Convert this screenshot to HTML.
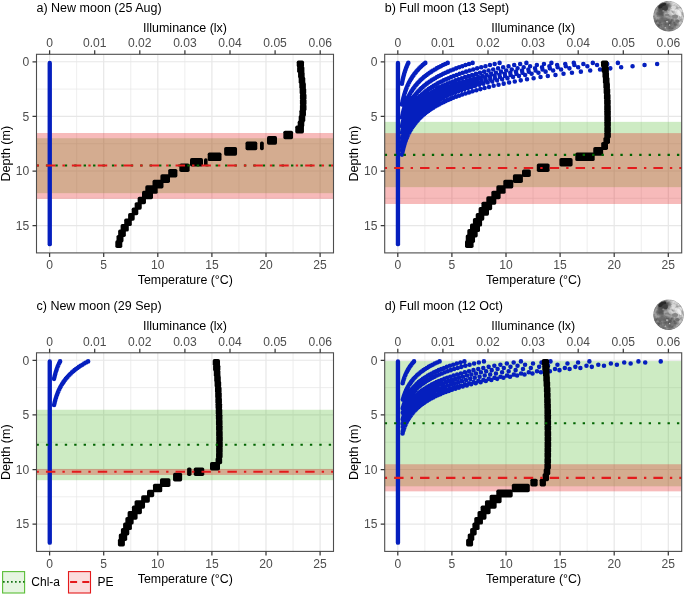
<!DOCTYPE html>
<html lang="en"><head><meta charset="utf-8"><title>Depth profiles</title>
<style>html,body{margin:0;padding:0;background:#fff}svg{display:block}</style></head><body>
<svg width="685" height="595" viewBox="0 0 685 595" font-family="'Liberation Sans', sans-serif">
<rect width="685" height="595" fill="#fff"/>
<defs><filter id="mb" x="-50%" y="-50%" width="200%" height="200%"><feGaussianBlur stdDeviation="1.1"/></filter><filter id="mb2" x="-50%" y="-50%" width="200%" height="200%"><feGaussianBlur stdDeviation=".6"/></filter><filter id="me" x="-20%" y="-20%" width="140%" height="140%"><feGaussianBlur stdDeviation=".4"/></filter><filter id="mt" x="0" y="0" width="100%" height="100%"><feTurbulence type="fractalNoise" baseFrequency=".28" numOctaves="2" seed="7" result="n"/><feColorMatrix in="n" type="matrix" values="0 0 0 0 0  0 0 0 0 0  0 0 0 0 0  1.6 0 0 0 -.55" result="a"/><feGaussianBlur in="a" stdDeviation=".35"/></filter><filter id="mt2" x="0" y="0" width="100%" height="100%"><feTurbulence type="fractalNoise" baseFrequency=".3" numOctaves="2" seed="23" result="n"/><feColorMatrix in="n" type="matrix" values="0 0 0 0 1  0 0 0 0 1  0 0 0 0 1  0 1.5 0 0 -.55" result="a"/><feGaussianBlur in="a" stdDeviation=".35"/></filter><clipPath id="mc"><circle cx="0" cy="0" r="15.3"/></clipPath><linearGradient id="mg" x1="0.9" y1="0.15" x2="0.15" y2="0.9"><stop offset="0" stop-color="#e4e4e4"/><stop offset=".45" stop-color="#bdbdbd"/><stop offset="1" stop-color="#868686"/></linearGradient><g id="moon"><g filter="url(#me)"><g clip-path="url(#mc)"><circle r="15.4" fill="url(#mg)"/><g filter="url(#mb)"><ellipse cx="-2" cy="8" rx="11" ry="6.5" fill="#727272"/><ellipse cx="8" cy="-6" rx="5.5" ry="6" fill="#e2e2e2"/><ellipse cx="-12.5" cy="3" rx="2" ry="4" fill="#9c9c9c"/></g><rect x="-16" y="-16" width="32" height="32" fill="#000" filter="url(#mt)" opacity=".5"/><rect x="-16" y="-16" width="32" height="32" fill="#fff" filter="url(#mt2)" opacity=".3"/><g filter="url(#mb)" opacity=".9"><ellipse cx="-5" cy="-9.2" rx="6.2" ry="3.9" fill="#3a3a3a" transform="rotate(-22 -5 -9.2)"/><ellipse cx="-8" cy="-3" rx="3.6" ry="3.4" fill="#505050"/><ellipse cx="-6.5" cy="3.5" rx="3.2" ry="2.6" fill="#6c6c6c"/></g><g filter="url(#mb2)"><ellipse cx="-6.4" cy="-10.6" rx="4.4" ry="2" fill="#2a2a2a" transform="rotate(-30 -6.4 -10.6)"/><ellipse cx="-3.6" cy="-8" rx="2.8" ry="2.6" fill="#404040"/><ellipse cx="-5.2" cy="-5.4" rx="1.1" ry=".9" fill="#8a8a8a"/><ellipse cx="6.4" cy="0.2" rx="3" ry="1.9" fill="#868686"/><ellipse cx="8.8" cy="4.9" rx="2.2" ry="1.7" fill="#707070"/><ellipse cx="-1.5" cy="-1.2" rx="2.4" ry="1.3" fill="#848484"/><ellipse cx="-1.6" cy="5.4" rx=".9" ry=".9" fill="#c8c8c8"/><ellipse cx="1" cy="8.8" rx=".8" ry=".8" fill="#c2c2c2"/><ellipse cx="-3.2" cy="11.6" rx="1" ry=".7" fill="#b4b4b4"/><ellipse cx="10.8" cy="-3" rx="1.5" ry="3.8" fill="#eee" transform="rotate(-25 10.8 -3)"/><ellipse cx="5" cy="-9" rx="2.4" ry="1.8" fill="#d8d8d8"/></g><circle r="15.1" fill="none" stroke="#555" stroke-width=".8" opacity=".35"/></g></g></g></defs>
<g transform="translate(0,0)"><text x="36.5" y="11.5" font-size="12.5" fill="#000">a) New moon (25 Aug)</text><text x="185" y="31.9" font-size="12.5" fill="#000" text-anchor="middle">Illuminance (lx)</text><text x="185.3" y="284.2" font-size="12.4" fill="#000" text-anchor="middle">Temperature (°C)</text><text transform="translate(9.8,153.7) rotate(-90)" font-size="12.5" fill="#000" text-anchor="middle">Depth (m)</text><rect x="36.5" y="54.3" width="297" height="198.6" fill="#fff"/><g stroke="#e7e7e7" fill="none"><path d="M76.65 54.3V252.9" stroke-width=".7"/><path d="M130.75 54.3V252.9" stroke-width=".7"/><path d="M184.85 54.3V252.9" stroke-width=".7"/><path d="M238.95 54.3V252.9" stroke-width=".7"/><path d="M293.05 54.3V252.9" stroke-width=".7"/><path d="M36.5 89.1H333.5" stroke-width=".7"/><path d="M36.5 143.7H333.5" stroke-width=".7"/><path d="M36.5 198.3H333.5" stroke-width=".7"/><path d="M49.6 54.3V252.9" stroke-width="1.2"/><path d="M103.7 54.3V252.9" stroke-width="1.2"/><path d="M157.8 54.3V252.9" stroke-width="1.2"/><path d="M211.9 54.3V252.9" stroke-width="1.2"/><path d="M266 54.3V252.9" stroke-width="1.2"/><path d="M320.1 54.3V252.9" stroke-width="1.2"/><path d="M36.5 61.8H333.5" stroke-width="1.1"/><path d="M36.5 116.4H333.5" stroke-width="1.1"/><path d="M36.5 171H333.5" stroke-width="1.1"/><path d="M36.5 225.6H333.5" stroke-width="1.1"/></g><rect x="36.5" y="138.24" width="297" height="54.93" fill="#5abe37" fill-opacity=".3"/><rect x="36.5" y="133" width="297" height="65.85" fill="#e41a1c" fill-opacity=".3"/><g stroke="#051fbe" stroke-width="4.55" stroke-linecap="round" fill="none"><path d="M49.75 62.89V244.16" stroke-width="4.35"/></g><g fill="#000"><rect x="296.72" y="60.48" width="7.3" height="7" rx="1.7"/><rect x="297.11" y="65.94" width="7.3" height="7" rx="1.7"/><rect x="298.06" y="71.4" width="6.6" height="7" rx="1.7"/><rect x="298.67" y="76.86" width="6.6" height="7" rx="1.7"/><rect x="299.28" y="82.32" width="6.6" height="7" rx="1.7"/><rect x="299.63" y="87.78" width="6.6" height="7" rx="1.7"/><rect x="299.9" y="93.24" width="6.6" height="7" rx="1.7"/><rect x="299.9" y="98.7" width="6.6" height="7" rx="1.7"/><rect x="299.9" y="104.16" width="6.6" height="7" rx="1.7"/><rect x="299.38" y="109.62" width="6.6" height="7" rx="1.7"/><rect x="298.68" y="115.08" width="6.6" height="7" rx="1.7"/><rect x="297.69" y="120.54" width="6.6" height="7" rx="1.7"/><rect x="295.25" y="125.5" width="8.7" height="8" rx="1.7"/><rect x="283.35" y="130.66" width="9.7" height="8.6" rx="1.7"/><rect x="267" y="136.12" width="10" height="8.6" rx="1.7"/><rect x="245.5" y="141.58" width="11.8" height="8.6" rx="1.7"/><rect x="260" y="141.58" width="3.8" height="8.6" rx="1.7"/><rect x="224.15" y="147.04" width="12.9" height="8.6" rx="1.7"/><rect x="207.7" y="152.5" width="13.8" height="8.6" rx="1.7"/><rect x="190" y="157.96" width="13" height="8.6" rx="1.7"/><rect x="204" y="158.26" width="3.6" height="8" rx="1.7"/><rect x="179.35" y="163.42" width="10.3" height="8.6" rx="1.7"/><rect x="168.2" y="168.88" width="9.2" height="8.6" rx="1.7"/><rect x="160.4" y="174.34" width="9.6" height="8.6" rx="1.7"/><rect x="152.5" y="179.8" width="11" height="8.6" rx="1.7"/><rect x="145.3" y="185.26" width="12.4" height="8.6" rx="1.7"/><rect x="142" y="190.72" width="11" height="8.6" rx="1.7"/><rect x="137.65" y="196.68" width="8.3" height="7.6" rx="1.7"/><rect x="134.65" y="202.14" width="7.1" height="7.6" rx="1.7"/><rect x="131.7" y="207.6" width="6.6" height="7.6" rx="1.7"/><rect x="128.1" y="213.06" width="6.6" height="7.6" rx="1.7"/><rect x="124.2" y="218.52" width="7.6" height="7.6" rx="1.7"/><rect x="120.6" y="223.98" width="8.2" height="7.6" rx="1.7"/><rect x="118.15" y="229.44" width="7.7" height="7.6" rx="1.7"/><rect x="116.5" y="234.9" width="7" height="7.6" rx="1.7"/><rect x="115.3" y="240.36" width="7" height="7.6" rx="1.7"/></g><path d="M36.5 165.54H333.5" stroke="#006400" stroke-width="2.1" stroke-dasharray="2.357 7.07" fill="none"/><path d="M36.5 165.54H333.5" stroke="#e41a1c" stroke-width="2.1" stroke-dasharray="2.357 7.07 9.43 7.07" fill="none"/><rect x="36.5" y="54.3" width="297" height="198.6" fill="none" stroke="#4d4d4d" stroke-width="1.1"/><path d="M49.6 54.3V50.3M94.7 54.3V50.3M139.8 54.3V50.3M184.9 54.3V50.3M230 54.3V50.3M275.1 54.3V50.3M320.2 54.3V50.3M49.6 252.9V256.9M103.7 252.9V256.9M157.8 252.9V256.9M211.9 252.9V256.9M266 252.9V256.9M320.1 252.9V256.9M36.5 61.8H32.5M36.5 116.4H32.5M36.5 171H32.5M36.5 225.6H32.5" stroke="#383838" stroke-width="1.25" fill="none"/><g font-size="12.1" fill="#4d4d4d"><text x="49.6" y="47" text-anchor="middle">0</text><text x="94.7" y="47" text-anchor="middle">0.01</text><text x="139.8" y="47" text-anchor="middle">0.02</text><text x="184.9" y="47" text-anchor="middle">0.03</text><text x="230" y="47" text-anchor="middle">0.04</text><text x="275.1" y="47" text-anchor="middle">0.05</text><text x="320.2" y="47" text-anchor="middle">0.06</text><text x="49.6" y="269.1" text-anchor="middle">0</text><text x="103.7" y="269.1" text-anchor="middle">5</text><text x="157.8" y="269.1" text-anchor="middle">10</text><text x="211.9" y="269.1" text-anchor="middle">15</text><text x="266" y="269.1" text-anchor="middle">20</text><text x="320.1" y="269.1" text-anchor="middle">25</text><text x="29.3" y="66.1" text-anchor="end">0</text><text x="29.3" y="120.7" text-anchor="end">5</text><text x="29.3" y="175.3" text-anchor="end">10</text><text x="29.3" y="229.9" text-anchor="end">15</text></g></g>
<g transform="translate(348.2,0)"><text x="36.5" y="11.5" font-size="12.5" fill="#000">b) Full moon (13 Sept)</text><text x="185" y="31.9" font-size="12.5" fill="#000" text-anchor="middle">Illuminance (lx)</text><text x="185.3" y="284.2" font-size="12.4" fill="#000" text-anchor="middle">Temperature (°C)</text><text transform="translate(9.8,153.7) rotate(-90)" font-size="12.5" fill="#000" text-anchor="middle">Depth (m)</text><rect x="36.5" y="54.3" width="297" height="198.6" fill="#fff"/><g stroke="#e7e7e7" fill="none"><path d="M76.65 54.3V252.9" stroke-width=".7"/><path d="M130.75 54.3V252.9" stroke-width=".7"/><path d="M184.85 54.3V252.9" stroke-width=".7"/><path d="M238.95 54.3V252.9" stroke-width=".7"/><path d="M293.05 54.3V252.9" stroke-width=".7"/><path d="M36.5 89.1H333.5" stroke-width=".7"/><path d="M36.5 143.7H333.5" stroke-width=".7"/><path d="M36.5 198.3H333.5" stroke-width=".7"/><path d="M49.6 54.3V252.9" stroke-width="1.2"/><path d="M103.7 54.3V252.9" stroke-width="1.2"/><path d="M157.8 54.3V252.9" stroke-width="1.2"/><path d="M211.9 54.3V252.9" stroke-width="1.2"/><path d="M266 54.3V252.9" stroke-width="1.2"/><path d="M320.1 54.3V252.9" stroke-width="1.2"/><path d="M36.5 61.8H333.5" stroke-width="1.1"/><path d="M36.5 116.4H333.5" stroke-width="1.1"/><path d="M36.5 171H333.5" stroke-width="1.1"/><path d="M36.5 225.6H333.5" stroke-width="1.1"/></g><rect x="36.5" y="121.86" width="297" height="65.3" fill="#5abe37" fill-opacity=".3"/><rect x="36.5" y="133.11" width="297" height="70.87" fill="#e41a1c" fill-opacity=".3"/><g stroke="#051fbe" stroke-width="4.55" stroke-linecap="round" fill="none"><path d="M49.75 62.89V244.16" stroke-width="4.35"/><path d="M60.11 62.89h.01M59.6 63.98h.01M59.11 65.08h.01M58.65 66.17h.01M58.21 67.26h.01M57.79 68.35h.01M57.4 69.44h.01M57.02 70.54h.01M56.66 71.63h.01M56.31 72.72h.01M55.99 73.81h.01M55.68 74.9h.01M55.38 76h.01M55.1 77.09h.01M54.84 78.18h.01M54.58 79.27h.01M54.34 80.36h.01M54.11 81.46h.01M53.89 82.55h.01M53.68 83.64h.01M77.11 62.89h.01M75.78 63.98h.01M74.5 65.08h.01M73.3 66.17h.01M72.15 67.26h.01M71.05 68.35h.01M70.01 69.44h.01M69.02 70.54h.01M68.08 71.63h.01M67.18 72.72h.01M66.33 73.81h.01M65.51 74.9h.01M64.74 76h.01M64.01 77.09h.01M63.31 78.18h.01M62.64 79.27h.01M62.01 80.36h.01M61.41 81.46h.01M60.83 82.55h.01M60.29 83.64h.01M59.77 84.73h.01M59.28 85.82h.01M58.81 86.92h.01M58.36 88.01h.01M57.93 89.1h.01M57.53 90.19h.01M57.14 91.28h.01M56.78 92.38h.01M56.43 93.47h.01M56.1 94.56h.01M55.78 95.65h.01M55.48 96.74h.01M55.2 97.84h.01M54.93 98.93h.01M54.67 100.02h.01M54.42 101.11h.01M54.19 102.2h.01M53.96 103.3h.01M53.75 104.39h.01M99.53 62.89h.01M97.1 63.98h.01M94.8 65.08h.01M92.6 66.17h.01M90.51 67.26h.01M88.53 68.35h.01M86.64 69.44h.01M84.84 70.54h.01M83.13 71.63h.01M81.5 72.72h.01M79.95 73.81h.01M78.48 74.9h.01M77.08 76h.01M75.74 77.09h.01M74.48 78.18h.01M73.27 79.27h.01M72.12 80.36h.01M71.03 81.46h.01M69.99 82.55h.01M69 83.64h.01M68.06 84.73h.01M67.16 85.82h.01M66.31 86.92h.01M65.5 88.01h.01M64.72 89.1h.01M63.99 90.19h.01M63.29 91.28h.01M62.63 92.38h.01M61.99 93.47h.01M61.39 94.56h.01M60.82 95.65h.01M60.28 96.74h.01M59.76 97.84h.01M59.26 98.93h.01M58.8 100.02h.01M58.35 101.11h.01M57.92 102.2h.01M57.52 103.3h.01M57.14 104.39h.01M56.77 105.48h.01M56.42 106.57h.01M56.09 107.66h.01M55.78 108.76h.01M55.48 109.85h.01M55.19 110.94h.01M54.92 112.03h.01M54.66 113.12h.01M54.42 114.22h.01M54.18 115.31h.01M53.96 116.4h.01M53.75 117.49h.01M124.42 62.89h.01M120.79 63.98h.01M117.33 65.08h.01M114.05 66.17h.01M110.92 67.26h.01M107.94 68.35h.01M105.11 69.44h.01M102.41 70.54h.01M99.85 71.63h.01M97.41 72.72h.01M95.09 73.81h.01M92.88 74.9h.01M90.78 76h.01M88.78 77.09h.01M86.88 78.18h.01M85.07 79.27h.01M83.35 80.36h.01M81.71 81.46h.01M80.15 82.55h.01M78.67 83.64h.01M77.26 84.73h.01M75.91 85.82h.01M74.64 86.92h.01M73.42 88.01h.01M72.27 89.1h.01M71.17 90.19h.01M70.12 91.28h.01M69.12 92.38h.01M68.18 93.47h.01M67.27 94.56h.01M66.42 95.65h.01M65.6 96.74h.01M64.82 97.84h.01M64.08 98.93h.01M63.38 100.02h.01M62.71 101.11h.01M62.08 102.2h.01M61.47 103.3h.01M60.89 104.39h.01M60.35 105.48h.01M59.82 106.57h.01M59.33 107.66h.01M58.86 108.76h.01M58.41 109.85h.01M57.98 110.94h.01M57.57 112.03h.01M57.18 113.12h.01M56.82 114.22h.01M56.47 115.31h.01M56.13 116.4h.01M55.82 117.49h.01M55.51 118.58h.01M55.23 119.68h.01M54.95 120.77h.01M54.69 121.86h.01M54.45 122.95h.01M54.21 124.04h.01M53.99 125.14h.01M53.77 126.23h.01M151.39 62.89h.01M146.45 63.98h.01M141.75 65.08h.01M137.28 66.17h.01M133.02 67.26h.01M128.97 68.35h.01M125.12 69.44h.01M121.45 70.54h.01M117.96 71.63h.01M114.64 72.72h.01M111.49 73.81h.01M108.48 74.9h.01M105.63 76h.01M102.91 77.09h.01M100.32 78.18h.01M97.86 79.27h.01M95.51 80.36h.01M93.28 81.46h.01M91.16 82.55h.01M89.15 83.64h.01M87.23 84.73h.01M85.4 85.82h.01M83.66 86.92h.01M82.01 88.01h.01M80.44 89.1h.01M78.94 90.19h.01M77.51 91.28h.01M76.16 92.38h.01M74.87 93.47h.01M73.64 94.56h.01M72.48 95.65h.01M71.37 96.74h.01M70.31 97.84h.01M69.3 98.93h.01M68.35 100.02h.01M67.44 101.11h.01M66.57 102.2h.01M65.75 103.3h.01M64.96 104.39h.01M64.22 105.48h.01M63.51 106.57h.01M62.83 107.66h.01M62.19 108.76h.01M61.58 109.85h.01M61 110.94h.01M60.45 112.03h.01M59.92 113.12h.01M59.42 114.22h.01M58.94 115.31h.01M58.49 116.4h.01M58.06 117.49h.01M57.65 118.58h.01M57.26 119.68h.01M56.88 120.77h.01M56.53 121.86h.01M56.19 122.95h.01M55.87 124.04h.01M55.57 125.14h.01M55.28 126.23h.01M55 127.32h.01M54.74 128.41h.01M54.49 129.5h.01M54.25 130.6h.01M54.03 131.69h.01M53.81 132.78h.01M178.18 62.89h.01M171.94 63.98h.01M166 65.08h.01M160.35 66.17h.01M154.97 67.26h.01M149.86 68.35h.01M144.99 69.44h.01M140.36 70.54h.01M135.96 71.63h.01M131.76 72.72h.01M127.78 73.81h.01M123.98 74.9h.01M120.37 76h.01M116.93 77.09h.01M113.67 78.18h.01M110.56 79.27h.01M107.6 80.36h.01M104.78 81.46h.01M102.1 82.55h.01M99.55 83.64h.01M97.13 84.73h.01M94.82 85.82h.01M92.63 86.92h.01M90.54 88.01h.01M88.55 89.1h.01M86.66 90.19h.01M84.86 91.28h.01M83.15 92.38h.01M81.52 93.47h.01M79.97 94.56h.01M78.5 95.65h.01M77.09 96.74h.01M75.76 97.84h.01M74.49 98.93h.01M73.28 100.02h.01M72.13 101.11h.01M71.04 102.2h.01M70 103.3h.01M69.01 104.39h.01M68.07 105.48h.01M67.17 106.57h.01M66.32 107.66h.01M65.5 108.76h.01M64.73 109.85h.01M64 110.94h.01M63.3 112.03h.01M62.63 113.12h.01M62 114.22h.01M61.4 115.31h.01M60.83 116.4h.01M60.28 117.49h.01M59.76 118.58h.01M59.27 119.68h.01M58.8 120.77h.01M58.35 121.86h.01M57.93 122.95h.01M57.52 124.04h.01M57.14 125.14h.01M56.77 126.23h.01M56.43 127.32h.01M56.09 128.41h.01M55.78 129.5h.01M55.48 130.6h.01M55.19 131.69h.01M54.92 132.78h.01M54.66 133.87h.01M54.42 134.96h.01M54.18 136.06h.01M53.96 137.15h.01M53.75 138.24h.01M203.21 62.89h.01M195.75 63.98h.01M188.66 65.08h.01M181.91 66.17h.01M175.49 67.26h.01M169.38 68.35h.01M163.56 69.44h.01M158.03 70.54h.01M152.77 71.63h.01M147.76 72.72h.01M142.99 73.81h.01M138.46 74.9h.01M134.15 76h.01M130.04 77.09h.01M126.14 78.18h.01M122.42 79.27h.01M118.89 80.36h.01M115.52 81.46h.01M112.32 82.55h.01M109.28 83.64h.01M106.38 84.73h.01M103.63 85.82h.01M101 86.92h.01M98.51 88.01h.01M96.13 89.1h.01M93.88 90.19h.01M91.73 91.28h.01M89.68 92.38h.01M87.74 93.47h.01M85.88 94.56h.01M84.12 95.65h.01M82.45 96.74h.01M80.85 97.84h.01M79.34 98.93h.01M77.89 100.02h.01M76.52 101.11h.01M75.21 102.2h.01M73.97 103.3h.01M72.79 104.39h.01M71.66 105.48h.01M70.59 106.57h.01M69.57 107.66h.01M68.6 108.76h.01M67.68 109.85h.01M66.8 110.94h.01M65.97 112.03h.01M65.17 113.12h.01M64.42 114.22h.01M63.7 115.31h.01M63.01 116.4h.01M62.36 117.49h.01M61.74 118.58h.01M61.15 119.68h.01M60.59 120.77h.01M60.06 121.86h.01M59.55 122.95h.01M59.07 124.04h.01M58.61 125.14h.01M58.17 126.23h.01M57.75 127.32h.01M57.36 128.41h.01M56.98 129.5h.01M56.62 130.6h.01M56.28 131.69h.01M55.96 132.78h.01M55.65 133.87h.01M55.36 134.96h.01M55.08 136.06h.01M54.81 137.15h.01M54.56 138.24h.01M54.32 139.33h.01M54.09 140.42h.01M53.87 141.52h.01M53.66 142.61h.01M225.58 62.89h.01M217.04 63.98h.01M208.91 65.08h.01M201.18 66.17h.01M193.82 67.26h.01M186.82 68.35h.01M180.16 69.44h.01M173.82 70.54h.01M167.79 71.63h.01M162.05 72.72h.01M156.59 73.81h.01M151.4 74.9h.01M146.46 76h.01M141.76 77.09h.01M137.28 78.18h.01M133.03 79.27h.01M128.98 80.36h.01M125.12 81.46h.01M121.46 82.55h.01M117.97 83.64h.01M114.65 84.73h.01M111.49 85.82h.01M108.49 86.92h.01M105.63 88.01h.01M102.91 89.1h.01M100.32 90.19h.01M97.86 91.28h.01M95.52 92.38h.01M93.29 93.47h.01M91.17 94.56h.01M89.15 95.65h.01M87.23 96.74h.01M85.4 97.84h.01M83.67 98.93h.01M82.01 100.02h.01M80.44 101.11h.01M78.94 102.2h.01M77.52 103.3h.01M76.16 104.39h.01M74.87 105.48h.01M73.65 106.57h.01M72.48 107.66h.01M71.37 108.76h.01M70.31 109.85h.01M69.31 110.94h.01M68.35 112.03h.01M67.44 113.12h.01M66.57 114.22h.01M65.75 115.31h.01M64.97 116.4h.01M64.22 117.49h.01M63.51 118.58h.01M62.83 119.68h.01M62.19 120.77h.01M61.58 121.86h.01M61 122.95h.01M60.45 124.04h.01M59.92 125.14h.01M59.42 126.23h.01M58.94 127.32h.01M58.49 128.41h.01M58.06 129.5h.01M57.65 130.6h.01M57.26 131.69h.01M56.88 132.78h.01M56.53 133.87h.01M56.19 134.96h.01M55.87 136.06h.01M55.57 137.15h.01M55.28 138.24h.01M55 139.33h.01M54.74 140.42h.01M54.49 141.52h.01M54.25 142.61h.01M54.03 143.7h.01M53.81 144.79h.01M244.61 62.89h.01M235.15 63.98h.01M226.14 65.08h.01M217.57 66.17h.01M209.42 67.26h.01M201.66 68.35h.01M194.28 69.44h.01M187.25 70.54h.01M180.57 71.63h.01M174.21 72.72h.01M168.17 73.81h.01M162.41 74.9h.01M156.93 76h.01M151.72 77.09h.01M146.77 78.18h.01M142.05 79.27h.01M137.56 80.36h.01M133.29 81.46h.01M129.23 82.55h.01M125.36 83.64h.01M121.69 84.73h.01M118.19 85.82h.01M114.86 86.92h.01M111.69 88.01h.01M108.68 89.1h.01M105.81 90.19h.01M103.08 91.28h.01M100.48 92.38h.01M98.01 93.47h.01M95.66 94.56h.01M93.43 95.65h.01M91.3 96.74h.01M89.28 97.84h.01M87.35 98.93h.01M85.52 100.02h.01M83.77 101.11h.01M82.12 102.2h.01M80.54 103.3h.01M79.03 104.39h.01M77.61 105.48h.01M76.25 106.57h.01M74.95 107.66h.01M73.72 108.76h.01M72.55 109.85h.01M71.44 110.94h.01M70.38 112.03h.01M69.37 113.12h.01M68.41 114.22h.01M67.5 115.31h.01M66.63 116.4h.01M65.8 117.49h.01M65.01 118.58h.01M64.27 119.68h.01M63.55 120.77h.01M62.88 121.86h.01M62.23 122.95h.01M61.62 124.04h.01M61.04 125.14h.01M60.48 126.23h.01M59.95 127.32h.01M59.45 128.41h.01M58.97 129.5h.01M58.52 130.6h.01M58.08 131.69h.01M57.67 132.78h.01M57.28 133.87h.01M56.91 134.96h.01M56.55 136.06h.01M56.22 137.15h.01M55.89 138.24h.01M55.59 139.33h.01M55.3 140.42h.01M55.02 141.52h.01M54.76 142.61h.01M54.51 143.7h.01M54.27 144.79h.01M54.04 145.88h.01M53.83 146.98h.01M269.69 62.89h.01M259 63.98h.01M248.84 65.08h.01M239.17 66.17h.01M229.97 67.26h.01M221.21 68.35h.01M212.88 69.44h.01M204.95 70.54h.01M197.41 71.63h.01M190.24 72.72h.01M183.41 73.81h.01M176.92 74.9h.01M170.74 76h.01M164.86 77.09h.01M159.26 78.18h.01M153.94 79.27h.01M148.87 80.36h.01M144.05 81.46h.01M139.47 82.55h.01M135.11 83.64h.01M130.96 84.73h.01M127.01 85.82h.01M123.25 86.92h.01M119.67 88.01h.01M116.27 89.1h.01M113.04 90.19h.01M109.96 91.28h.01M107.03 92.38h.01M104.24 93.47h.01M101.59 94.56h.01M99.06 95.65h.01M96.66 96.74h.01M94.38 97.84h.01M92.2 98.93h.01M90.14 100.02h.01M88.17 101.11h.01M86.3 102.2h.01M84.51 103.3h.01M82.82 104.39h.01M81.21 105.48h.01M79.67 106.57h.01M78.21 107.66h.01M76.82 108.76h.01M75.5 109.85h.01M74.25 110.94h.01M73.05 112.03h.01M71.91 113.12h.01M70.83 114.22h.01M69.8 115.31h.01M68.82 116.4h.01M67.88 117.49h.01M67 118.58h.01M66.15 119.68h.01M65.35 120.77h.01M64.58 121.86h.01M63.86 122.95h.01M63.16 124.04h.01M62.51 125.14h.01M61.88 126.23h.01M61.28 127.32h.01M60.72 128.41h.01M60.18 129.5h.01M59.66 130.6h.01M59.17 131.69h.01M58.71 132.78h.01M58.27 133.87h.01M57.85 134.96h.01M57.45 136.06h.01M57.07 137.15h.01M56.7 138.24h.01M56.36 139.33h.01M56.03 140.42h.01M55.72 141.52h.01M55.42 142.61h.01M55.14 143.7h.01M54.87 144.79h.01M54.61 145.88h.01M54.37 146.98h.01M54.14 148.07h.01M53.92 149.16h.01M53.71 150.25h.01M308.93 63.98h.01M296.34 65.08h.01M284.36 66.17h.01M272.96 67.26h.01M262.12 68.35h.01M251.81 69.44h.01M241.99 70.54h.01M232.65 71.63h.01M223.76 72.72h.01M215.31 73.81h.01M207.27 74.9h.01M199.61 76h.01M192.33 77.09h.01M185.4 78.18h.01M178.81 79.27h.01M172.54 80.36h.01M166.57 81.46h.01M160.89 82.55h.01M155.49 83.64h.01M150.35 84.73h.01M145.46 85.82h.01M140.81 86.92h.01M136.38 88.01h.01M132.17 89.1h.01M128.16 90.19h.01M124.34 91.28h.01M120.72 92.38h.01M117.26 93.47h.01M113.98 94.56h.01M110.85 95.65h.01M107.88 96.74h.01M105.05 97.84h.01M102.36 98.93h.01M99.8 100.02h.01M97.36 101.11h.01M95.04 102.2h.01M92.84 103.3h.01M90.74 104.39h.01M88.74 105.48h.01M86.84 106.57h.01M85.03 107.66h.01M83.31 108.76h.01M81.68 109.85h.01M80.12 110.94h.01M78.64 112.03h.01M77.23 113.12h.01M75.89 114.22h.01M74.61 115.31h.01M73.4 116.4h.01M72.24 117.49h.01M71.14 118.58h.01M70.1 119.68h.01M69.1 120.77h.01M68.16 121.86h.01M67.26 122.95h.01M66.4 124.04h.01M65.58 125.14h.01M64.81 126.23h.01M64.07 127.32h.01M63.37 128.41h.01M62.7 129.5h.01M62.06 130.6h.01M61.46 131.69h.01M60.88 132.78h.01M60.33 133.87h.01M59.81 134.96h.01M59.32 136.06h.01M58.85 137.15h.01M58.4 138.24h.01M57.97 139.33h.01M57.56 140.42h.01M57.18 141.52h.01M56.81 142.61h.01M56.46 143.7h.01M56.13 144.79h.01M55.81 145.88h.01M55.51 146.98h.01M55.22 148.07h.01M54.95 149.16h.01M54.69 150.25h.01M54.44 151.34h.01M54.21 152.44h.01M53.98 153.53h.01M53.77 154.62h.01"/></g><g fill="#000"><rect x="252.78" y="60.48" width="7.3" height="7" rx="1.7"/><rect x="253.39" y="65.94" width="7.3" height="7" rx="1.7"/><rect x="254.23" y="71.4" width="6.6" height="7" rx="1.7"/><rect x="254.7" y="76.86" width="6.6" height="7" rx="1.7"/><rect x="255.14" y="82.32" width="6.6" height="7" rx="1.7"/><rect x="255.44" y="87.78" width="6.6" height="7" rx="1.7"/><rect x="255.73" y="93.24" width="6.6" height="7" rx="1.7"/><rect x="255.92" y="98.7" width="6.6" height="7" rx="1.7"/><rect x="255.98" y="104.16" width="6.6" height="7" rx="1.7"/><rect x="256.03" y="109.62" width="6.6" height="7" rx="1.7"/><rect x="256.09" y="115.08" width="6.6" height="7" rx="1.7"/><rect x="256.1" y="120.54" width="6.6" height="7" rx="1.7"/><rect x="256.1" y="126" width="6.6" height="7" rx="1.7"/><rect x="256.1" y="131.46" width="6.6" height="7" rx="1.7"/><rect x="255.2" y="136.92" width="6.6" height="7" rx="1.7"/><rect x="253" y="141.88" width="6.8" height="8" rx="1.7"/><rect x="245.05" y="147.04" width="9.9" height="8.6" rx="1.7"/><rect x="227.1" y="152.5" width="19.4" height="8.6" rx="1.7"/><rect x="211.2" y="157.96" width="13.2" height="8.6" rx="1.7"/><rect x="188.6" y="163.42" width="12.8" height="8.6" rx="1.7"/><rect x="173.8" y="169.38" width="8.8" height="7.6" rx="1.7"/><rect x="164.7" y="174.34" width="10" height="8.6" rx="1.7"/><rect x="155.1" y="179.8" width="10" height="8.6" rx="1.7"/><rect x="148.15" y="185.26" width="9.3" height="8.6" rx="1.7"/><rect x="143.15" y="190.72" width="9.3" height="8.6" rx="1.7"/><rect x="138.1" y="196.18" width="10" height="8.6" rx="1.7"/><rect x="133.25" y="201.64" width="10.7" height="8.6" rx="1.7"/><rect x="130.4" y="207.1" width="10.4" height="8.6" rx="1.7"/><rect x="127.5" y="213.06" width="8.6" height="7.6" rx="1.7"/><rect x="124.7" y="218.02" width="9.2" height="8.6" rx="1.7"/><rect x="121.8" y="223.48" width="10" height="8.6" rx="1.7"/><rect x="119.1" y="228.94" width="10.4" height="8.6" rx="1.7"/><rect x="117.55" y="234.4" width="9.3" height="8.6" rx="1.7"/><rect x="116.8" y="240.36" width="8.6" height="7.6" rx="1.7"/></g><path d="M36.5 154.84H333.5" stroke="#006400" stroke-width="2.1" stroke-dasharray="2.357 7.07" fill="none"/><path d="M36.5 167.94H333.5" stroke="#e41a1c" stroke-width="2.1" stroke-dasharray="2.357 7.07 9.43 7.07" fill="none"/><rect x="36.5" y="54.3" width="297" height="198.6" fill="none" stroke="#4d4d4d" stroke-width="1.1"/><path d="M49.6 54.3V50.3M94.7 54.3V50.3M139.8 54.3V50.3M184.9 54.3V50.3M230 54.3V50.3M275.1 54.3V50.3M320.2 54.3V50.3M49.6 252.9V256.9M103.7 252.9V256.9M157.8 252.9V256.9M211.9 252.9V256.9M266 252.9V256.9M320.1 252.9V256.9M36.5 61.8H32.5M36.5 116.4H32.5M36.5 171H32.5M36.5 225.6H32.5" stroke="#383838" stroke-width="1.25" fill="none"/><g font-size="12.1" fill="#4d4d4d"><text x="49.6" y="47" text-anchor="middle">0</text><text x="94.7" y="47" text-anchor="middle">0.01</text><text x="139.8" y="47" text-anchor="middle">0.02</text><text x="184.9" y="47" text-anchor="middle">0.03</text><text x="230" y="47" text-anchor="middle">0.04</text><text x="275.1" y="47" text-anchor="middle">0.05</text><text x="320.2" y="47" text-anchor="middle">0.06</text><text x="49.6" y="269.1" text-anchor="middle">0</text><text x="103.7" y="269.1" text-anchor="middle">5</text><text x="157.8" y="269.1" text-anchor="middle">10</text><text x="211.9" y="269.1" text-anchor="middle">15</text><text x="266" y="269.1" text-anchor="middle">20</text><text x="320.1" y="269.1" text-anchor="middle">25</text><text x="29.3" y="66.1" text-anchor="end">0</text><text x="29.3" y="120.7" text-anchor="end">5</text><text x="29.3" y="175.3" text-anchor="end">10</text><text x="29.3" y="229.9" text-anchor="end">15</text></g><use href="#moon" x="320.4" y="16.2"/></g>
<g transform="translate(0,298.5)"><text x="36.5" y="11.5" font-size="12.5" fill="#000">c) New moon (29 Sep)</text><text x="185" y="31.9" font-size="12.5" fill="#000" text-anchor="middle">Illuminance (lx)</text><text x="185.3" y="284.2" font-size="12.4" fill="#000" text-anchor="middle">Temperature (°C)</text><text transform="translate(9.8,153.7) rotate(-90)" font-size="12.5" fill="#000" text-anchor="middle">Depth (m)</text><rect x="36.5" y="54.3" width="297" height="198.6" fill="#fff"/><g stroke="#e7e7e7" fill="none"><path d="M76.65 54.3V252.9" stroke-width=".7"/><path d="M130.75 54.3V252.9" stroke-width=".7"/><path d="M184.85 54.3V252.9" stroke-width=".7"/><path d="M238.95 54.3V252.9" stroke-width=".7"/><path d="M293.05 54.3V252.9" stroke-width=".7"/><path d="M36.5 89.1H333.5" stroke-width=".7"/><path d="M36.5 143.7H333.5" stroke-width=".7"/><path d="M36.5 198.3H333.5" stroke-width=".7"/><path d="M49.6 54.3V252.9" stroke-width="1.2"/><path d="M103.7 54.3V252.9" stroke-width="1.2"/><path d="M157.8 54.3V252.9" stroke-width="1.2"/><path d="M211.9 54.3V252.9" stroke-width="1.2"/><path d="M266 54.3V252.9" stroke-width="1.2"/><path d="M320.1 54.3V252.9" stroke-width="1.2"/><path d="M36.5 61.8H333.5" stroke-width="1.1"/><path d="M36.5 116.4H333.5" stroke-width="1.1"/><path d="M36.5 171H333.5" stroke-width="1.1"/><path d="M36.5 225.6H333.5" stroke-width="1.1"/></g><rect x="36.5" y="111.27" width="297" height="70.43" fill="#5abe37" fill-opacity=".3"/><rect x="36.5" y="170.45" width="297" height="6.01" fill="#e41a1c" fill-opacity=".3"/><g stroke="#051fbe" stroke-width="4.55" stroke-linecap="round" fill="none"><path d="M49.75 62.89V244.16" stroke-width="4.35"/><path d="M60.11 62.89h.01M59.56 63.98h.01M59.03 65.08h.01M58.54 66.17h.01M58.07 67.26h.01M57.62 68.35h.01M57.2 69.44h.01M56.8 70.54h.01M56.42 71.63h.01M56.06 72.72h.01M55.72 73.81h.01M55.4 74.9h.01M55.1 76h.01M54.81 77.09h.01M54.53 78.18h.01M54.27 79.27h.01M54.03 80.36h.01M88.12 62.89h.01M86.09 63.98h.01M84.17 65.08h.01M82.36 66.17h.01M80.63 67.26h.01M79 68.35h.01M77.46 69.44h.01M75.99 70.54h.01M74.6 71.63h.01M73.29 72.72h.01M72.04 73.81h.01M70.86 74.9h.01M69.75 76h.01M68.69 77.09h.01M67.68 78.18h.01M66.73 79.27h.01M65.83 80.36h.01M64.98 81.46h.01M64.17 82.55h.01M63.41 83.64h.01M62.68 84.73h.01M61.99 85.82h.01M61.34 86.92h.01M60.72 88.01h.01M60.14 89.1h.01M59.58 90.19h.01M59.06 91.28h.01M58.56 92.38h.01M58.09 93.47h.01M57.65 94.56h.01M57.22 95.65h.01M56.82 96.74h.01M56.44 97.84h.01M56.08 98.93h.01M55.74 100.02h.01M55.42 101.11h.01M55.11 102.2h.01M54.82 103.3h.01M54.55 104.39h.01M54.29 105.48h.01M54.04 106.57h.01"/></g><g fill="#000"><rect x="212.72" y="60.48" width="7.3" height="7" rx="1.7"/><rect x="213.08" y="65.94" width="7.3" height="7" rx="1.7"/><rect x="213.8" y="71.4" width="6.6" height="7" rx="1.7"/><rect x="214.2" y="76.86" width="6.6" height="7" rx="1.7"/><rect x="214.59" y="82.32" width="6.6" height="7" rx="1.7"/><rect x="214.98" y="87.78" width="6.6" height="7" rx="1.7"/><rect x="215.17" y="93.24" width="6.6" height="7" rx="1.7"/><rect x="215.34" y="98.7" width="6.6" height="7" rx="1.7"/><rect x="215.52" y="104.16" width="6.6" height="7" rx="1.7"/><rect x="215.7" y="109.62" width="6.6" height="7" rx="1.7"/><rect x="215.87" y="115.08" width="6.6" height="7" rx="1.7"/><rect x="215.96" y="120.54" width="6.6" height="7" rx="1.7"/><rect x="216.04" y="126" width="6.6" height="7" rx="1.7"/><rect x="216.11" y="131.46" width="6.6" height="7" rx="1.7"/><rect x="216.19" y="136.92" width="6.6" height="7" rx="1.7"/><rect x="216.15" y="142.38" width="6.6" height="7" rx="1.7"/><rect x="216.09" y="147.84" width="6.6" height="7" rx="1.7"/><rect x="216.03" y="153.3" width="6.6" height="7" rx="1.7"/><rect x="215.56" y="158.76" width="6.6" height="7" rx="1.7"/><rect x="210" y="163.42" width="10" height="8.6" rx="1.7"/><rect x="193.75" y="168.88" width="10.5" height="8.6" rx="1.7"/><rect x="187.1" y="168.88" width="4.4" height="8.6" rx="1.7"/><rect x="173.05" y="174.34" width="9.1" height="8.6" rx="1.7"/><rect x="159.95" y="179.8" width="10.5" height="8.6" rx="1.7"/><rect x="152.95" y="185.26" width="9.3" height="8.6" rx="1.7"/><rect x="147" y="191.22" width="7.2" height="7.6" rx="1.7"/><rect x="141.15" y="196.68" width="8.7" height="7.6" rx="1.7"/><rect x="134.55" y="201.64" width="10.5" height="8.6" rx="1.7"/><rect x="131.9" y="207.1" width="10" height="8.6" rx="1.7"/><rect x="127.6" y="212.56" width="10" height="8.6" rx="1.7"/><rect x="125.35" y="218.52" width="8.3" height="7.6" rx="1.7"/><rect x="123.1" y="223.98" width="8.8" height="7.6" rx="1.7"/><rect x="120.9" y="229.44" width="8.4" height="7.6" rx="1.7"/><rect x="118.8" y="234.9" width="8.4" height="7.6" rx="1.7"/><rect x="117.9" y="240.36" width="7" height="7.6" rx="1.7"/></g><path d="M36.5 146.21H333.5" stroke="#006400" stroke-width="2.1" stroke-dasharray="2.357 7.07" fill="none"/><path d="M36.5 173.29H333.5" stroke="#e41a1c" stroke-width="2.1" stroke-dasharray="2.357 7.07 9.43 7.07" fill="none"/><rect x="36.5" y="54.3" width="297" height="198.6" fill="none" stroke="#4d4d4d" stroke-width="1.1"/><path d="M49.6 54.3V50.3M94.7 54.3V50.3M139.8 54.3V50.3M184.9 54.3V50.3M230 54.3V50.3M275.1 54.3V50.3M320.2 54.3V50.3M49.6 252.9V256.9M103.7 252.9V256.9M157.8 252.9V256.9M211.9 252.9V256.9M266 252.9V256.9M320.1 252.9V256.9M36.5 61.8H32.5M36.5 116.4H32.5M36.5 171H32.5M36.5 225.6H32.5" stroke="#383838" stroke-width="1.25" fill="none"/><g font-size="12.1" fill="#4d4d4d"><text x="49.6" y="47" text-anchor="middle">0</text><text x="94.7" y="47" text-anchor="middle">0.01</text><text x="139.8" y="47" text-anchor="middle">0.02</text><text x="184.9" y="47" text-anchor="middle">0.03</text><text x="230" y="47" text-anchor="middle">0.04</text><text x="275.1" y="47" text-anchor="middle">0.05</text><text x="320.2" y="47" text-anchor="middle">0.06</text><text x="49.6" y="269.1" text-anchor="middle">0</text><text x="103.7" y="269.1" text-anchor="middle">5</text><text x="157.8" y="269.1" text-anchor="middle">10</text><text x="211.9" y="269.1" text-anchor="middle">15</text><text x="266" y="269.1" text-anchor="middle">20</text><text x="320.1" y="269.1" text-anchor="middle">25</text><text x="29.3" y="66.1" text-anchor="end">0</text><text x="29.3" y="120.7" text-anchor="end">5</text><text x="29.3" y="175.3" text-anchor="end">10</text><text x="29.3" y="229.9" text-anchor="end">15</text></g></g>
<g transform="translate(348.2,298.5)"><text x="36.5" y="11.5" font-size="12.5" fill="#000">d) Full moon (12 Oct)</text><text x="185" y="31.9" font-size="12.5" fill="#000" text-anchor="middle">Illuminance (lx)</text><text x="185.3" y="284.2" font-size="12.4" fill="#000" text-anchor="middle">Temperature (°C)</text><text transform="translate(9.8,153.7) rotate(-90)" font-size="12.5" fill="#000" text-anchor="middle">Depth (m)</text><rect x="36.5" y="54.3" width="297" height="198.6" fill="#fff"/><g stroke="#e7e7e7" fill="none"><path d="M76.65 54.3V252.9" stroke-width=".7"/><path d="M130.75 54.3V252.9" stroke-width=".7"/><path d="M184.85 54.3V252.9" stroke-width=".7"/><path d="M238.95 54.3V252.9" stroke-width=".7"/><path d="M293.05 54.3V252.9" stroke-width=".7"/><path d="M36.5 89.1H333.5" stroke-width=".7"/><path d="M36.5 143.7H333.5" stroke-width=".7"/><path d="M36.5 198.3H333.5" stroke-width=".7"/><path d="M49.6 54.3V252.9" stroke-width="1.2"/><path d="M103.7 54.3V252.9" stroke-width="1.2"/><path d="M157.8 54.3V252.9" stroke-width="1.2"/><path d="M211.9 54.3V252.9" stroke-width="1.2"/><path d="M266 54.3V252.9" stroke-width="1.2"/><path d="M320.1 54.3V252.9" stroke-width="1.2"/><path d="M36.5 61.8H333.5" stroke-width="1.1"/><path d="M36.5 116.4H333.5" stroke-width="1.1"/><path d="M36.5 171H333.5" stroke-width="1.1"/><path d="M36.5 225.6H333.5" stroke-width="1.1"/></g><rect x="36.5" y="62.56" width="297" height="125.25" fill="#5abe37" fill-opacity=".3"/><rect x="36.5" y="165.76" width="297" height="27.08" fill="#e41a1c" fill-opacity=".3"/><g stroke="#051fbe" stroke-width="4.55" stroke-linecap="round" fill="none"><path d="M49.75 62.89V244.16" stroke-width="4.35"/><path d="M65.84 62.89h.01M64.88 63.98h.01M63.98 65.08h.01M63.13 66.17h.01M62.33 67.26h.01M61.58 68.35h.01M60.87 69.44h.01M60.21 70.54h.01M59.58 71.63h.01M58.99 72.72h.01M58.44 73.81h.01M57.92 74.9h.01M57.43 76h.01M56.97 77.09h.01M56.53 78.18h.01M56.12 79.27h.01M55.74 80.36h.01M55.38 81.46h.01M55.03 82.55h.01M54.71 83.64h.01M54.41 84.73h.01M91.41 62.89h.01M88.94 63.98h.01M86.62 65.08h.01M84.44 66.17h.01M82.38 67.26h.01M80.45 68.35h.01M78.63 69.44h.01M76.92 70.54h.01M75.3 71.63h.01M73.79 72.72h.01M72.36 73.81h.01M71.02 74.9h.01M69.76 76h.01M68.57 77.09h.01M67.45 78.18h.01M66.39 79.27h.01M65.4 80.36h.01M64.47 81.46h.01M63.59 82.55h.01M62.77 83.64h.01M61.99 84.73h.01M61.26 85.82h.01M60.57 86.92h.01M59.93 88.01h.01M59.32 89.1h.01M58.74 90.19h.01M58.2 91.28h.01M57.7 92.38h.01M57.22 93.47h.01M56.77 94.56h.01M56.35 95.65h.01M55.95 96.74h.01M55.57 97.84h.01M55.22 98.93h.01M54.89 100.02h.01M54.58 101.11h.01M116.21 62.89h.01M112.28 63.98h.01M108.59 65.08h.01M105.11 66.17h.01M101.83 67.26h.01M98.75 68.35h.01M95.85 69.44h.01M93.12 70.54h.01M90.56 71.63h.01M88.14 72.72h.01M85.87 73.81h.01M83.73 74.9h.01M81.71 76h.01M79.82 77.09h.01M78.04 78.18h.01M76.36 79.27h.01M74.78 80.36h.01M73.3 81.46h.01M71.9 82.55h.01M70.58 83.64h.01M69.34 84.73h.01M68.18 85.82h.01M67.08 86.92h.01M66.05 88.01h.01M65.08 89.1h.01M64.17 90.19h.01M63.31 91.28h.01M62.5 92.38h.01M61.74 93.47h.01M61.02 94.56h.01M60.35 95.65h.01M59.72 96.74h.01M59.12 97.84h.01M58.56 98.93h.01M58.03 100.02h.01M57.53 101.11h.01M57.06 102.2h.01M56.62 103.3h.01M56.21 104.39h.01M55.82 105.48h.01M55.45 106.57h.01M55.11 107.66h.01M54.78 108.76h.01M54.48 109.85h.01M135.74 62.89h.01M130.66 63.98h.01M125.88 65.08h.01M121.38 66.17h.01M117.14 67.26h.01M113.16 68.35h.01M109.41 69.44h.01M105.88 70.54h.01M102.56 71.63h.01M99.44 72.72h.01M96.5 73.81h.01M93.73 74.9h.01M91.13 76h.01M88.68 77.09h.01M86.37 78.18h.01M84.2 79.27h.01M82.16 80.36h.01M80.24 81.46h.01M78.43 82.55h.01M76.73 83.64h.01M75.13 84.73h.01M73.63 85.82h.01M72.21 86.92h.01M70.88 88.01h.01M69.62 89.1h.01M68.44 90.19h.01M67.33 91.28h.01M66.28 92.38h.01M65.3 93.47h.01M64.37 94.56h.01M63.5 95.65h.01M62.68 96.74h.01M61.91 97.84h.01M61.18 98.93h.01M60.5 100.02h.01M59.86 101.11h.01M59.25 102.2h.01M58.68 103.3h.01M58.15 104.39h.01M57.64 105.48h.01M57.17 106.57h.01M56.72 107.66h.01M56.3 108.76h.01M55.91 109.85h.01M55.53 110.94h.01M55.18 112.03h.01M54.86 113.12h.01M54.55 114.22h.01M172.72 62.89h.01M165.46 63.98h.01M158.63 65.08h.01M152.19 66.17h.01M146.14 67.26h.01M140.45 68.35h.01M135.09 69.44h.01M130.05 70.54h.01M125.3 71.63h.01M120.83 72.72h.01M116.63 73.81h.01M112.68 74.9h.01M108.96 76h.01M105.46 77.09h.01M102.16 78.18h.01M99.06 79.27h.01M96.14 80.36h.01M93.4 81.46h.01M90.81 82.55h.01M88.38 83.64h.01M86.1 84.73h.01M83.94 85.82h.01M81.92 86.92h.01M80.01 88.01h.01M78.22 89.1h.01M76.53 90.19h.01M74.94 91.28h.01M73.45 92.38h.01M72.04 93.47h.01M70.72 94.56h.01M69.47 95.65h.01M68.3 96.74h.01M67.19 97.84h.01M66.16 98.93h.01M65.18 100.02h.01M64.26 101.11h.01M63.4 102.2h.01M62.58 103.3h.01M61.82 104.39h.01M61.1 105.48h.01M60.42 106.57h.01M59.78 107.66h.01M59.18 108.76h.01M58.61 109.85h.01M58.08 110.94h.01M57.58 112.03h.01M57.11 113.12h.01M56.67 114.22h.01M56.25 115.31h.01M55.86 116.4h.01M55.49 117.49h.01M55.14 118.58h.01M54.82 119.68h.01M54.51 120.77h.01M202.31 62.89h.01M193.3 63.98h.01M184.82 65.08h.01M176.85 66.17h.01M169.34 67.26h.01M162.28 68.35h.01M155.63 69.44h.01M149.38 70.54h.01M143.49 71.63h.01M137.95 72.72h.01M132.74 73.81h.01M127.84 74.9h.01M123.22 76h.01M118.88 77.09h.01M114.79 78.18h.01M110.95 79.27h.01M107.33 80.36h.01M103.92 81.46h.01M100.72 82.55h.01M97.7 83.64h.01M94.86 84.73h.01M92.19 85.82h.01M89.68 86.92h.01M87.32 88.01h.01M85.09 89.1h.01M83 90.19h.01M81.03 91.28h.01M79.18 92.38h.01M77.43 93.47h.01M75.79 94.56h.01M74.24 95.65h.01M72.79 96.74h.01M71.42 97.84h.01M70.14 98.93h.01M68.92 100.02h.01M67.78 101.11h.01M66.71 102.2h.01M65.7 103.3h.01M64.75 104.39h.01M63.86 105.48h.01M63.02 106.57h.01M62.23 107.66h.01M61.48 108.76h.01M60.78 109.85h.01M60.12 110.94h.01M59.5 112.03h.01M58.92 113.12h.01M58.37 114.22h.01M57.85 115.31h.01M57.36 116.4h.01M56.9 117.49h.01M56.47 118.58h.01M56.07 119.68h.01M55.69 120.77h.01M55.33 121.86h.01M54.99 122.95h.01M54.67 124.04h.01M54.37 125.14h.01M241.18 62.89h.01M229.88 63.98h.01M219.25 65.08h.01M209.24 66.17h.01M199.82 67.26h.01M190.96 68.35h.01M182.62 69.44h.01M174.78 70.54h.01M167.39 71.63h.01M160.44 72.72h.01M153.91 73.81h.01M147.75 74.9h.01M141.96 76h.01M136.51 77.09h.01M131.39 78.18h.01M126.56 79.27h.01M122.02 80.36h.01M117.75 81.46h.01M113.73 82.55h.01M109.95 83.64h.01M106.39 84.73h.01M103.04 85.82h.01M99.89 86.92h.01M96.92 88.01h.01M94.13 89.1h.01M91.5 90.19h.01M89.03 91.28h.01M86.7 92.38h.01M84.52 93.47h.01M82.46 94.56h.01M80.52 95.65h.01M78.69 96.74h.01M76.98 97.84h.01M75.36 98.93h.01M73.84 100.02h.01M72.41 101.11h.01M71.07 102.2h.01M69.8 103.3h.01M68.61 104.39h.01M67.49 105.48h.01M66.43 106.57h.01M65.44 107.66h.01M64.51 108.76h.01M63.63 109.85h.01M62.8 110.94h.01M62.02 112.03h.01M61.29 113.12h.01M60.6 114.22h.01M59.95 115.31h.01M59.34 116.4h.01M58.76 117.49h.01M58.22 118.58h.01M57.72 119.68h.01M57.24 120.77h.01M56.79 121.86h.01M56.36 122.95h.01M55.96 124.04h.01M55.59 125.14h.01M55.23 126.23h.01M54.9 127.32h.01M54.59 128.41h.01M290.21 62.89h.01M276.02 63.98h.01M262.66 65.08h.01M250.09 66.17h.01M238.26 67.26h.01M227.14 68.35h.01M216.66 69.44h.01M206.81 70.54h.01M197.53 71.63h.01M188.81 72.72h.01M180.6 73.81h.01M172.87 74.9h.01M165.6 76h.01M158.76 77.09h.01M152.32 78.18h.01M146.26 79.27h.01M140.56 80.36h.01M135.19 81.46h.01M130.14 82.55h.01M125.39 83.64h.01M120.92 84.73h.01M116.71 85.82h.01M112.75 86.92h.01M109.03 88.01h.01M105.52 89.1h.01M102.22 90.19h.01M99.12 91.28h.01M96.2 92.38h.01M93.45 93.47h.01M90.86 94.56h.01M88.43 95.65h.01M86.14 96.74h.01M83.98 97.84h.01M81.96 98.93h.01M80.05 100.02h.01M78.25 101.11h.01M76.56 102.2h.01M74.97 103.3h.01M73.47 104.39h.01M72.07 105.48h.01M70.74 106.57h.01M69.49 107.66h.01M68.32 108.76h.01M67.22 109.85h.01M66.18 110.94h.01M65.2 112.03h.01M64.28 113.12h.01M63.41 114.22h.01M62.6 115.31h.01M61.83 116.4h.01M61.11 117.49h.01M60.43 118.58h.01M59.79 119.68h.01M59.19 120.77h.01M58.62 121.86h.01M58.09 122.95h.01M57.59 124.04h.01M57.12 125.14h.01M56.68 126.23h.01M56.26 127.32h.01M55.87 128.41h.01M55.5 129.5h.01M55.15 130.6h.01M54.82 131.69h.01M54.51 132.78h.01M312.53 62.89h.01M297.02 63.98h.01M282.43 65.08h.01M268.69 66.17h.01M255.77 67.26h.01M243.61 68.35h.01M232.16 69.44h.01M221.39 70.54h.01M211.26 71.63h.01M201.72 72.72h.01M192.75 73.81h.01M184.31 74.9h.01M176.36 76h.01M168.88 77.09h.01M161.85 78.18h.01M155.23 79.27h.01M148.99 80.36h.01M143.13 81.46h.01M137.61 82.55h.01M132.42 83.64h.01M127.54 84.73h.01M122.94 85.82h.01M118.61 86.92h.01M114.54 88.01h.01M110.71 89.1h.01M107.11 90.19h.01M103.71 91.28h.01M100.52 92.38h.01M97.52 93.47h.01M94.69 94.56h.01M92.03 95.65h.01M89.53 96.74h.01M87.17 97.84h.01M84.96 98.93h.01M82.87 100.02h.01M80.91 101.11h.01M79.06 102.2h.01M77.32 103.3h.01M75.69 104.39h.01M74.15 105.48h.01M72.7 106.57h.01M71.34 107.66h.01M70.06 108.76h.01M68.85 109.85h.01M67.71 110.94h.01M66.65 112.03h.01M65.64 113.12h.01M64.69 114.22h.01M63.8 115.31h.01M62.97 116.4h.01M62.18 117.49h.01M61.44 118.58h.01M60.74 119.68h.01M60.08 120.77h.01M59.46 121.86h.01M58.88 122.95h.01M58.33 124.04h.01M57.82 125.14h.01M57.33 126.23h.01M56.88 127.32h.01M56.45 128.41h.01M56.04 129.5h.01M55.66 130.6h.01M55.31 131.69h.01M54.97 132.78h.01M54.65 133.87h.01M54.35 134.96h.01"/></g><g fill="#000"><rect x="193.64" y="60.48" width="7.3" height="7" rx="1.7"/><rect x="194.05" y="65.94" width="7.3" height="7" rx="1.7"/><rect x="194.78" y="71.4" width="6.6" height="7" rx="1.7"/><rect x="195.08" y="76.86" width="6.6" height="7" rx="1.7"/><rect x="195.38" y="82.32" width="6.6" height="7" rx="1.7"/><rect x="195.69" y="87.78" width="6.6" height="7" rx="1.7"/><rect x="195.83" y="93.24" width="6.6" height="7" rx="1.7"/><rect x="195.97" y="98.7" width="6.6" height="7" rx="1.7"/><rect x="196.1" y="104.16" width="6.6" height="7" rx="1.7"/><rect x="196.21" y="109.62" width="6.6" height="7" rx="1.7"/><rect x="196.25" y="115.08" width="6.6" height="7" rx="1.7"/><rect x="196.28" y="120.54" width="6.6" height="7" rx="1.7"/><rect x="196.32" y="126" width="6.6" height="7" rx="1.7"/><rect x="196.36" y="131.46" width="6.6" height="7" rx="1.7"/><rect x="196.39" y="136.92" width="6.6" height="7" rx="1.7"/><rect x="196.37" y="142.38" width="6.6" height="7" rx="1.7"/><rect x="196.32" y="147.84" width="6.6" height="7" rx="1.7"/><rect x="196.28" y="153.3" width="6.6" height="7" rx="1.7"/><rect x="196.24" y="158.76" width="6.6" height="7" rx="1.7"/><rect x="196.17" y="164.22" width="6.6" height="7" rx="1.7"/><rect x="195.47" y="169.68" width="6.6" height="7" rx="1.7"/><rect x="194.4" y="174.64" width="6.4" height="8" rx="1.7"/><rect x="191.45" y="180.15" width="6.3" height="7.9" rx="1.7"/><rect x="182.15" y="180.15" width="7.3" height="7.9" rx="1.7"/><rect x="163.6" y="185.31" width="18" height="8.5" rx="1.7"/><rect x="148.1" y="191.07" width="16.4" height="7.9" rx="1.7"/><rect x="141.4" y="196.18" width="12" height="8.6" rx="1.7"/><rect x="136.75" y="201.64" width="11.7" height="8.6" rx="1.7"/><rect x="132.4" y="207.1" width="10" height="8.6" rx="1.7"/><rect x="129.3" y="212.56" width="9" height="8.6" rx="1.7"/><rect x="126.05" y="218.52" width="8.7" height="7.6" rx="1.7"/><rect x="124.2" y="223.98" width="7.2" height="7.6" rx="1.7"/><rect x="121.9" y="229.44" width="6.6" height="7.6" rx="1.7"/><rect x="119.5" y="234.9" width="6.6" height="7.6" rx="1.7"/><rect x="117.9" y="240.36" width="7" height="7.6" rx="1.7"/></g><path d="M36.5 124.7H333.5" stroke="#006400" stroke-width="2.1" stroke-dasharray="2.357 7.07" fill="none"/><path d="M36.5 179.41H333.5" stroke="#e41a1c" stroke-width="2.1" stroke-dasharray="2.357 7.07 9.43 7.07" fill="none"/><rect x="36.5" y="54.3" width="297" height="198.6" fill="none" stroke="#4d4d4d" stroke-width="1.1"/><path d="M49.6 54.3V50.3M94.7 54.3V50.3M139.8 54.3V50.3M184.9 54.3V50.3M230 54.3V50.3M275.1 54.3V50.3M320.2 54.3V50.3M49.6 252.9V256.9M103.7 252.9V256.9M157.8 252.9V256.9M211.9 252.9V256.9M266 252.9V256.9M320.1 252.9V256.9M36.5 61.8H32.5M36.5 116.4H32.5M36.5 171H32.5M36.5 225.6H32.5" stroke="#383838" stroke-width="1.25" fill="none"/><g font-size="12.1" fill="#4d4d4d"><text x="49.6" y="47" text-anchor="middle">0</text><text x="94.7" y="47" text-anchor="middle">0.01</text><text x="139.8" y="47" text-anchor="middle">0.02</text><text x="184.9" y="47" text-anchor="middle">0.03</text><text x="230" y="47" text-anchor="middle">0.04</text><text x="275.1" y="47" text-anchor="middle">0.05</text><text x="320.2" y="47" text-anchor="middle">0.06</text><text x="49.6" y="269.1" text-anchor="middle">0</text><text x="103.7" y="269.1" text-anchor="middle">5</text><text x="157.8" y="269.1" text-anchor="middle">10</text><text x="211.9" y="269.1" text-anchor="middle">15</text><text x="266" y="269.1" text-anchor="middle">20</text><text x="320.1" y="269.1" text-anchor="middle">25</text><text x="29.3" y="66.1" text-anchor="end">0</text><text x="29.3" y="120.7" text-anchor="end">5</text><text x="29.3" y="175.3" text-anchor="end">10</text><text x="29.3" y="229.9" text-anchor="end">15</text></g><use href="#moon" x="320.4" y="16.2"/></g>
<g><rect x="2.6" y="571.6" width="22" height="21.4" fill="#5abe37" fill-opacity=".15" stroke="#5abe37" stroke-width="1.1"/><path d="M3.1 581.9H24.3" stroke="#006400" stroke-width="1.6" stroke-dasharray="1.5 2.5" fill="none"/><text x="31.3" y="586.3" font-size="12" fill="#000">Chl-a</text><rect x="68.5" y="571.6" width="22" height="21.4" fill="#e41a1c" fill-opacity=".15" stroke="#e41a1c" stroke-width="1.1"/><path d="M70.1 582H89.6" stroke="#e41a1c" stroke-width="2.1" stroke-dasharray="7 5.2" fill="none"/><text x="97.6" y="586.3" font-size="12" fill="#000">PE</text></g>
</svg>
</body></html>
